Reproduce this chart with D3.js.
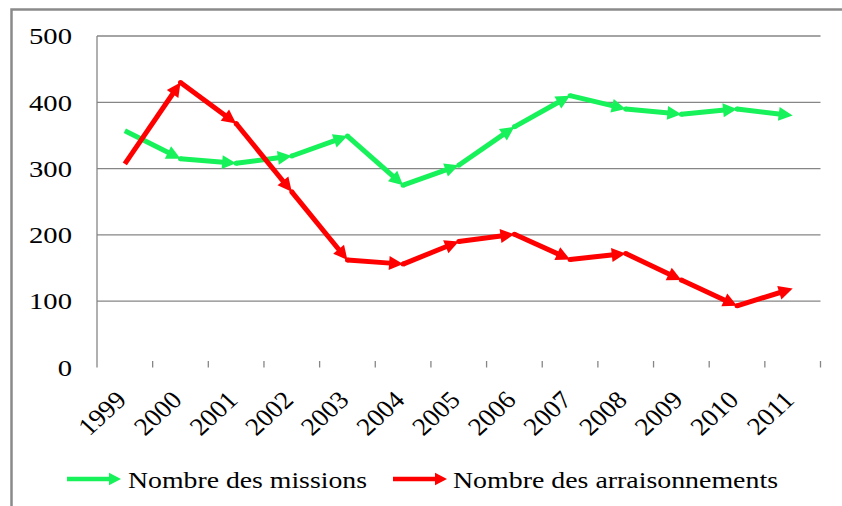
<!DOCTYPE html>
<html>
<head>
<meta charset="utf-8">
<script src="https://cdn.jsdelivr.net/npm/d3@7"></script>
<style>
  html, body { margin: 0; padding: 0; background: #fff; }
  svg { display: block; }
  text { font-family: "Liberation Serif", "Times New Roman", serif; fill: #000; }
</style>
</head>
<body>
<svg id="chart" width="842" height="506"></svg>
<script>
// Années et séries
const years = ["1999","2000","2001","2002","2003","2004","2005","2006","2007","2008","2009","2010","2011"];
const missions = [357, 315, 308, 319, 349, 275, 305, 363, 410, 390, 382, 390, 380];
const arraisonnements = [307, 430, 368, 265, 162, 156, 190, 201, 163, 172, 132, 93, 119];
const yTicks = [0, 100, 200, 300, 400, 500];
const seriesNames = ["Nombre des missions", "Nombre des arraisonnements"];
const seriesColors = ["#17f25a", "#ff0000"];

const svg = d3.select("#chart");
const W = 842, H = 506;
const plot = { left: 97, right: 820.5, top: 36, bottom: 367.5 };
const stretch = 1.22; // horizontal widening of the serif lettering

// Outer frame (top and left edges visible)
svg.append("rect")
  .attr("x", 11.5).attr("y", 9.5)
  .attr("width", W + 20).attr("height", H + 20)
  .attr("fill", "none").attr("stroke", "#8a8a8a").attr("stroke-width", 2.5);

const x = d3.scaleBand().domain(years).range([plot.left, plot.right]).padding(0);
const y = d3.scaleLinear().domain([0, 500]).range([plot.bottom, plot.top]);

// Horizontal gridlines
svg.append("g")
  .selectAll("line")
  .data(yTicks.filter(d => d > 0))
  .join("line")
  .attr("x1", plot.left).attr("x2", plot.right)
  .attr("y1", d => y(d)).attr("y2", d => y(d))
  .attr("stroke", "#868686").attr("stroke-width", 1.3);

// Vertical axis line
svg.append("line")
  .attr("x1", plot.left).attr("x2", plot.left)
  .attr("y1", plot.top).attr("y2", plot.bottom)
  .attr("stroke", "#868686").attr("stroke-width", 1.3);

// Y tick labels
svg.append("g")
  .selectAll("text")
  .data(yTicks)
  .join("text")
  .attr("transform", d => `translate(72,${y(d)}) scale(${stretch},1)`)
  .attr("text-anchor", "end")
  .attr("dy", "0.35em")
  .attr("font-size", 23.5)
  .text(d => d);

// Category boundary tick marks along the base
const bounds = years.slice(1).map(d => x(d)).concat([plot.right]);
svg.append("g")
  .selectAll("line")
  .data(bounds)
  .join("line")
  .attr("x1", d => d).attr("x2", d => d)
  .attr("y1", plot.bottom - 6.5).attr("y2", plot.bottom)
  .attr("stroke", "#868686").attr("stroke-width", 1.3);

// Rotated year labels
svg.append("g")
  .selectAll("text")
  .data(years)
  .join("text")
  .attr("transform", d => `translate(${x(d) + x.bandwidth() / 2 + 3},${plot.bottom + 34}) scale(1.09,1) rotate(-45)`)
  .attr("text-anchor", "end")
  .attr("font-size", 25)
  .text(d => d);

// Arrow-ended segments
const arrowLen = 14, arrowHalf = 7, lineW = 5;
function drawArrow(g, x0, y0, x1, y1, color, len, half, lw) {
  const dx = x1 - x0, dy = y1 - y0;
  const L = Math.hypot(dx, dy);
  const ux = dx / L, uy = dy / L;
  const bx = x1 - ux * len, by = y1 - uy * len;
  g.append("line")
    .attr("x1", x0).attr("y1", y0)
    .attr("x2", x1 - ux * len * 0.7).attr("y2", y1 - uy * len * 0.7)
    .attr("stroke", color).attr("stroke-width", lw)
    .attr("stroke-linecap", "butt");
  g.append("path")
    .attr("d", `M${x1},${y1}L${bx - uy * half},${by + ux * half}L${bx + uy * half},${by - ux * half}Z`)
    .attr("fill", color);
}

[missions, arraisonnements].forEach((vals, si) => {
  const g = svg.append("g");
  const pts = vals.map((v, i) => [x(years[i]) + x.bandwidth() / 2, y(v)]);
  for (let i = 0; i < pts.length - 1; i++) {
    // round joint at each vertex so segments meet cleanly
    g.append("circle").attr("cx", pts[i][0]).attr("cy", pts[i][1])
      .attr("r", i === 0 ? 0 : lineW / 2).attr("fill", seriesColors[si]);
    drawArrow(g, pts[i][0], pts[i][1], pts[i + 1][0], pts[i + 1][1], seriesColors[si], arrowLen, arrowHalf, lineW);
  }
});

// Legend
const legendItems = [
  { x0: 67, x1: 121, tx: 128, tw: 239 },
  { x0: 393, x1: 447, tx: 453, tw: 325 }
];
const lg = svg.append("g");
legendItems.forEach((it, i) => {
  drawArrow(lg, it.x0, 479, it.x1, 479, seriesColors[i], 12, 6.3, 4.6);
  lg.append("text")
    .attr("x", it.tx).attr("y", 488)
    .attr("font-size", 23)
    .attr("textLength", it.tw)
    .attr("lengthAdjust", "spacingAndGlyphs")
    .text(seriesNames[i]);
});
</script>
</body>
</html>
